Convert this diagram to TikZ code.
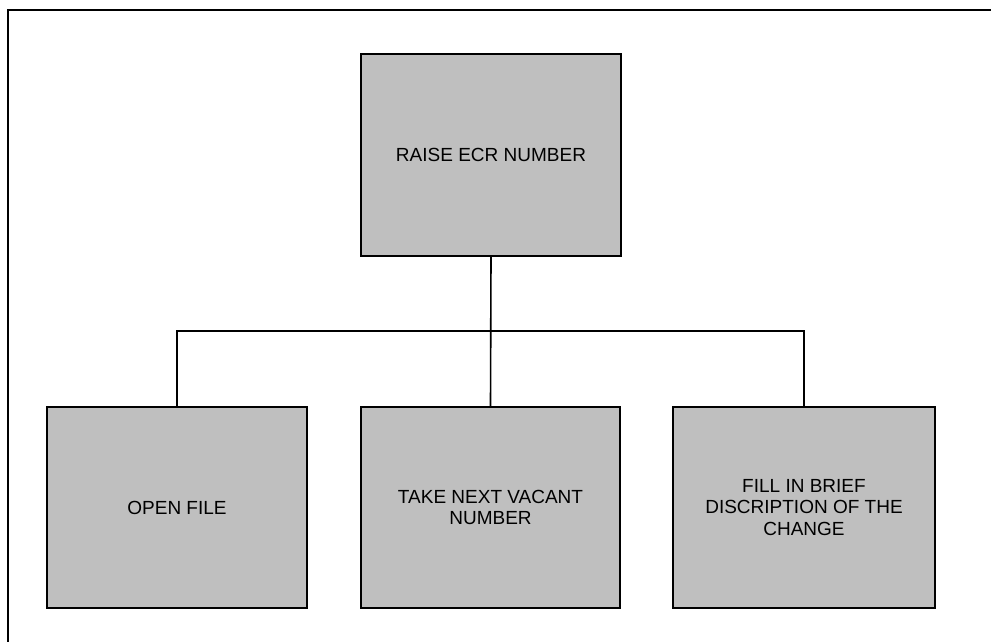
\documentclass[tikz,border=0pt]{standalone}
\usepackage{fontspec}
\setmainfont{Liberation Sans}
\begin{document}
\begin{tikzpicture}[x=1pt,y=-1pt,
  box/.style={draw=black, line width=2.2pt, fill=black!25, rectangle, align=center,
    inner sep=0pt, font=\fontsize{19}{21.7}\selectfont},
  conn/.style={draw=black, line width=1.6pt},
  frame/.style={draw=black, line width=2.2pt}]
\useasboundingbox (0,0) rectangle (991,642);
\node[box, minimum width=260, minimum height=202] (top) at (491,155) {RAISE ECR NUMBER};
\node[box, minimum width=260, minimum height=201] (left) at (177,507.5) {OPEN FILE};
\node[box, minimum width=259, minimum height=201] (mid) at (490.5,507.5) {TAKE NEXT VACANT\\NUMBER};
\node[box, minimum width=262, minimum height=201] (right) at (804,507.5) {FILL IN BRIEF\\DISCRIPTION OF THE\\CHANGE};
\coordinate (bar) at (0,331);
\coordinate (fbl) at (8,642);
\coordinate (ftl) at (8,10);
\coordinate (ftr) at (991,10);
\draw[conn] (top.south) -- (mid.north);
\draw[conn] (left.north) |- (bar -| right.north) -- (right.north);
\draw[frame] (fbl) -- (ftl) -- (ftr);
\end{tikzpicture}
\end{document}
